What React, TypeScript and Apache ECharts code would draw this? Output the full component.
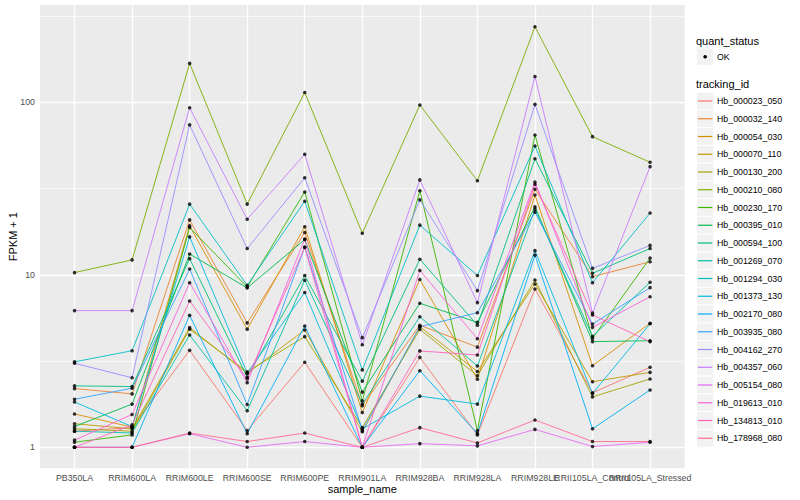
import React, { useEffect, useRef } from "react";
import * as echarts from "echarts";

const categories = [
  "PB350LA", "RRIM600LA", "RRIM600LE", "RRIM600SE", "RRIM600PE", "RRIM901LA",
  "RRIM928BA", "RRIM928LA", "RRIM928LE", "RRII105LA_Control", "RRII105LA_Stressed",
];

const trackingIds = [
  "Hb_000023_050", "Hb_000032_140", "Hb_000054_030", "Hb_000070_110", "Hb_000130_200",
  "Hb_000210_080", "Hb_000230_170", "Hb_000395_010", "Hb_000594_100", "Hb_001269_070",
  "Hb_001294_030", "Hb_001373_130", "Hb_002170_080", "Hb_003935_080", "Hb_004162_270",
  "Hb_004357_060", "Hb_005154_080", "Hb_019613_010", "Hb_134813_010", "Hb_178968_080",
];

const colors = [
  "#F8766D", "#EA8331", "#D89000", "#C09B00", "#A3A500", "#7CAE00", "#39B600", "#00BB4E",
  "#00BF7D", "#00C1A3", "#00BFC4", "#00BAE0", "#00B0F6", "#35A2FF", "#9590FF", "#C77CFF",
  "#E76BF3", "#FA62DB", "#FF62BC", "#FF6C91",
];

// FPKM + 1 per tracking id, in category order
const hb000023 = [1.24, 1.3, 3.65, 1.25, 3.11, 1.0, 3.32, 1.18, 8.27, 2.07, 2.91];
const hb000032 = [2.19, 2.04, 20.8, 5.26, 17.6, 1.74, 5.1, 3.81, 31.3, 9.75, 11.9];
const hb000054 = [1.56, 1.31, 19.2, 4.84, 19.0, 1.59, 9.4, 2.48, 29.0, 2.97, 5.24];
const hb000070 = [1.37, 1.28, 4.94, 2.68, 4.79, 1.23, 5.0, 2.75, 8.85, 2.4, 2.72];
const hb000130 = [1.28, 1.24, 4.84, 2.74, 4.38, 1.3, 4.83, 2.6, 9.33, 1.96, 2.49];
const hb000210 = [10.3, 12.2, 168, 25.7, 114, 17.4, 96.5, 35.1, 274, 63.2, 44.9];
const hb000230 = [1.07, 1.18, 18.8, 8.5, 30.2, 1.86, 30.7, 1.25, 64.6, 4.28, 12.5];
const hb000395 = [1.32, 1.78, 13.2, 8.4, 16.0, 2.09, 6.84, 5.3, 24.8, 4.1, 4.15];
const hb000594 = [2.27, 2.25, 12.4, 2.55, 9.9, 2.42, 12.3, 5.1, 47.1, 10.2, 14.2];
const hb001269 = [1.24, 1.21, 4.48, 1.63, 9.3, 1.78, 5.71, 2.96, 24.0, 4.4, 9.05];
const hb001294 = [3.13, 3.63, 25.7, 8.7, 26.7, 2.81, 19.4, 9.9, 55.8, 9.0, 22.8];
const hb001373 = [1.83, 1.32, 16.6, 2.7, 7.9, 1.28, 1.98, 1.78, 13.8, 2.05, 5.2];
const hb002170 = [1.0, 1.0, 5.82, 1.2, 5.05, 1.0, 2.78, 1.2, 13.0, 1.28, 2.15];
const hb003935 = [1.9, 2.2, 10.8, 1.77, 14.5, 1.25, 5.0, 6.03, 23.1, 5.18, 8.42];
const hb004162 = [3.07, 2.53, 74, 14.2, 36.5, 4.32, 27.2, 8.1, 97.3, 10.9, 14.8];
const hb004357 = [6.2, 6.2, 93, 21, 50, 3.93, 35.5, 6.9, 141, 6.0, 42.4];
const hb005154 = [1.0, 1.0, 1.2, 1.0, 1.08, 1.0, 1.05, 1.02, 1.27, 1.01, 1.07];
const hb019613 = [1.1, 1.55, 9.0, 2.37, 16.1, 1.0, 10.6, 4.26, 34.5, 4.96, 7.46];
const hb134813 = [1.0, 1.35, 7.05, 2.5, 14.4, 1.0, 3.62, 3.43, 33.5, 5.85, 4.1];
const hb178968 = [1.0, 1.0, 1.21, 1.08, 1.21, 1.0, 1.3, 1.06, 1.44, 1.08, 1.08];

const seriesValues = [
  hb000023, hb000032, hb000054, hb000070, hb000130, hb000210, hb000230, hb000395, hb000594,
  hb001269, hb001294, hb001373, hb002170, hb003935, hb004162, hb004357, hb005154, hb019613,
  hb134813, hb178968,
];

const yMajorTicks = [1, 10, 100];
const yMinorBreaks = [3.1623, 31.623, 316.23];
const quantStatus = ["OK"];

const FONT = "'Liberation Sans', Arial, Helvetica, sans-serif";

export default function App() {
  const ref = useRef<HTMLDivElement>(null);

  useEffect(() => {
    if (!ref.current) return;
    const chart = echarts.init(ref.current, undefined, { renderer: "svg" });
    const lg = (v: number) => Math.log10(v);
    const yMin = -0.1217;
    const yMax = 2.564;

    const lineSeries: any[] = seriesValues.map((vals, i) => ({
      name: trackingIds[i],
      type: "line",
      data: vals.map((v, j) => [j, lg(v)]),
      showSymbol: false,
      symbol: "none",
      silent: true,
      z: 3,
      lineStyle: { color: colors[i], width: 0.9 },
      itemStyle: { color: colors[i] },
    }));

    lineSeries[0].markLine = {
      silent: true,
      symbol: "none",
      z: 1,
      animation: false,
      label: { show: false },
      lineStyle: { color: "#FFFFFF", type: "solid", width: 1.3 },
      data: [
        ...yMinorBreaks.filter((v) => lg(v) < yMax).map((v) => ({
          yAxis: lg(v),
          lineStyle: { color: "#FFFFFF", type: "solid", width: 0.65 },
        })),
        ...yMajorTicks.map((v) => ({ yAxis: lg(v) })),
        ...categories.map((_, j) => ({ xAxis: j })),
      ],
    };

    const points: number[][] = [];
    seriesValues.forEach((vals) => vals.forEach((v, j) => points.push([j, lg(v)])));

    const legendX = 696.5;
    const keyW = 17.3;
    const rowH = 17.75;
    const firstRow = 101;
    const graphics: any[] = [
      {
        type: "text",
        x: 696,
        y: 40.7,
        style: { text: "quant_status", font: `11px ${FONT}`, fill: "#000", verticalAlign: "middle" },
      },
      {
        type: "rect",
        shape: { x: legendX, y: 56.7 - keyW / 2, width: keyW, height: keyW },
        style: { fill: "#F2F2F2", stroke: "#FFFFFF", lineWidth: 1 },
      },
      { type: "circle", shape: { cx: legendX + keyW / 2, cy: 56.7, r: 1.8 }, style: { fill: "#000" } },
      {
        type: "text",
        x: 717,
        y: 56.7,
        style: { text: quantStatus[0], font: `8.8px ${FONT}`, fill: "#000", verticalAlign: "middle" },
      },
      {
        type: "text",
        x: 696,
        y: 84.3,
        style: { text: "tracking_id", font: `11px ${FONT}`, fill: "#000", verticalAlign: "middle" },
      },
    ];
    trackingIds.forEach((id, i) => {
      const cy = firstRow + i * rowH;
      graphics.push({
        type: "rect",
        shape: { x: legendX, y: cy - rowH / 2, width: keyW, height: rowH },
        style: { fill: "#F2F2F2", stroke: "#FFFFFF", lineWidth: 1 },
      });
      graphics.push({
        type: "line",
        shape: { x1: legendX + 1.5, y1: cy, x2: legendX + keyW - 1.5, y2: cy },
        style: { stroke: colors[i], lineWidth: 1.2 },
      });
      graphics.push({
        type: "text",
        x: 717,
        y: cy,
        style: { text: id, font: `8.8px ${FONT}`, fill: "#000", verticalAlign: "middle" },
      });
    });

    const idx = categories.map((_, j) => j);
    const evenIdx = idx.filter((j) => j % 2 === 0);
    const oddIdx = idx.filter((j) => j % 2 === 1);
    const xLabelStyle = {
      formatter: (v: number) => categories[Math.round(v)] ?? "",
      color: "#4D4D4D",
      fontSize: 8.8,
      fontFamily: FONT,
      margin: 5,
      hideOverlap: false,
      showMinLabel: true,
      showMaxLabel: true,
    };

    chart.setOption({
      animation: false,
      backgroundColor: "#FFFFFF",
      textStyle: { fontFamily: FONT },
      grid: {
        left: 40,
        right: 115.4,
        top: 5,
        bottom: 31.7,
        show: true,
        backgroundColor: "#EBEBEB",
        borderWidth: 0,
        containLabel: false,
        outerBoundsMode: "none",
      },
      xAxis: [
        {
          type: "value",
          position: "bottom",
          offset: 0,
          min: -0.6,
          max: 10.6,
          name: "sample_name",
          nameLocation: "middle",
          nameGap: 15,
          nameMoveOverlap: false,
          nameTextStyle: { color: "#000", fontSize: 11, fontFamily: FONT },
          axisLine: { show: false },
          splitLine: { show: false },
          axisTick: {
            show: true,
            length: 2.75,
            customValues: idx,
            lineStyle: { color: "#333333", width: 1 },
          },
          axisLabel: { ...xLabelStyle, customValues: evenIdx },
        },
        {
          type: "value",
          position: "bottom",
          offset: 0,
          min: -0.6,
          max: 10.6,
          axisLine: { show: false },
          splitLine: { show: false },
          axisTick: { show: false },
          axisLabel: { ...xLabelStyle, customValues: oddIdx },
        },
      ],
      yAxis: {
        type: "value",
        min: yMin,
        max: yMax,
        name: "FPKM + 1",
        nameLocation: "middle",
        nameRotate: 90,
        nameGap: 22,
        nameMoveOverlap: false,
        nameTextStyle: { color: "#000", fontSize: 11, fontFamily: FONT },
        axisLine: { show: false },
        splitLine: { show: false },
        axisTick: {
          show: true,
          length: 2.75,
          customValues: yMajorTicks.map(lg),
          lineStyle: { color: "#333333", width: 1 },
        },
        axisLabel: {
          customValues: yMajorTicks.map(lg),
          formatter: (v: number) => String(Math.round(Math.pow(10, v))),
          color: "#4D4D4D",
          fontSize: 8.8,
          fontFamily: FONT,
          margin: 5,
        },
      },
      series: [
        ...lineSeries,
        {
          name: "quant_status",
          type: "scatter",
          data: points,
          symbol: "circle",
          symbolSize: 3.6,
          silent: true,
          z: 4,
          itemStyle: { color: "#000000" },
        },
      ],
      graphic: graphics,
    });

    return () => chart.dispose();
  }, []);

  return (
    <div
      ref={ref}
      style={{ position: "fixed", left: 0, top: 0, width: 800, height: 500 }}
    />
  );
}
